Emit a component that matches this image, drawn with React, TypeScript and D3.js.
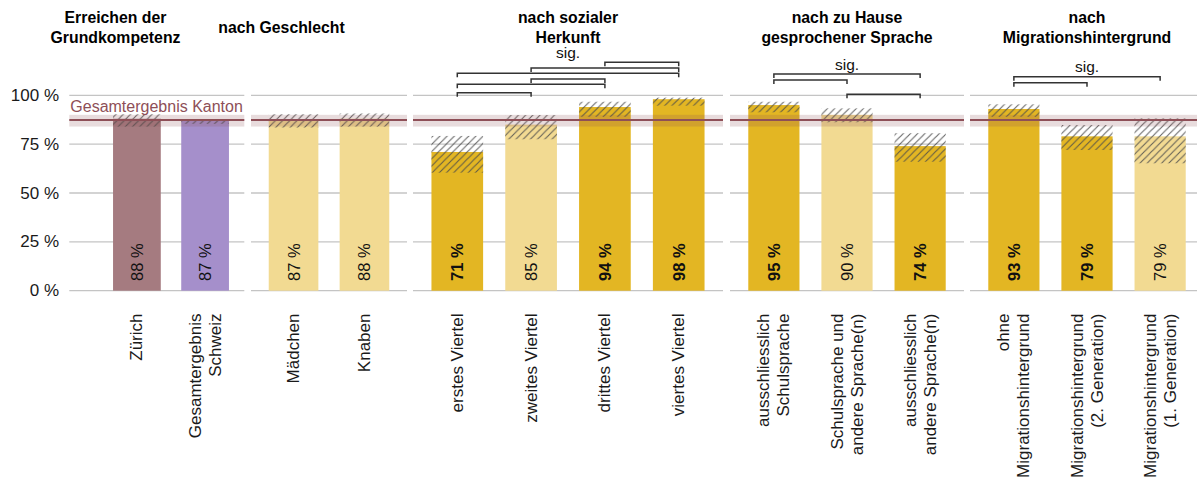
import React from "react";
import * as d3 from "d3";

const W = 1197;
const H = 489;

// ---------- data ----------
const panelTitles: string[][] = [
  ["Erreichen der", "Grundkompetenz"],
  ["nach Geschlecht"],
  ["nach sozialer", "Herkunft"],
  ["nach zu Hause", "gesprochener Sprache"],
  ["nach", "Migrationshintergrund"],
];

const panelCategories: string[][] = [
  ["Zürich", "Gesamtergebnis\nSchweiz"],
  ["Mädchen", "Knaben"],
  ["erstes Viertel", "zweites Viertel", "drittes Viertel", "viertes Viertel"],
  ["ausschliesslich\nSchulsprache", "Schulsprache und\nandere Sprache(n)", "ausschliesslich\nandere Sprache(n)"],
  ["ohne\nMigrationshintergrund", "Migrationshintergrund\n(2. Generation)", "Migrationshintergrund\n(1. Generation)"],
];

const panelValues: number[][] = [
  [88, 87],
  [87, 88],
  [71, 85, 94, 98],
  [95, 90, 74],
  [93, 79, 79],
];

const panelCiLow: number[][] = [
  [84.0, 85.4],
  [83.5, 84.0],
  [60.4, 77.5, 89.0, 94.7],
  [91.3, 86.2, 66.0],
  [89.0, 72.0, 65.2],
];

const panelCiHigh: number[][] = [
  [90.3, 87.6],
  [90.3, 90.7],
  [79.2, 89.9, 96.7, 98.8],
  [96.7, 93.3, 80.6],
  [95.4, 84.8, 88.2],
];

// fill group of each bar: "zh" canton, "ch" Switzerland, "strong" significant, "light" not significant
const panelGroups: string[][] = [
  ["zh", "ch"],
  ["light", "light"],
  ["strong", "light", "strong", "strong"],
  ["strong", "light", "strong"],
  ["strong", "strong", "light"],
];

// significance brackets: [from index, to index, level in % units]
const panelBrackets: [number, number, number][][] = [
  [],
  [],
  [
    [0, 1, 101.3],
    [0, 2, 105.6],
    [1, 2, 108.3],
    [0, 3, 111.3],
    [1, 3, 114.0],
    [2, 3, 116.9],
  ],
  [
    [1, 2, 100.5],
    [0, 1, 107.8],
    [0, 2, 110.9],
  ],
  [
    [0, 1, 106.4],
    [0, 2, 109.5],
  ],
];

const kantonValue = 87.4;
const kantonLow = 84.0;
const kantonHigh = 90.0;
const kantonLabel = "Gesamtergebnis Kanton";
const sigLabel = "sig.";

const yTicks = [0, 25, 50, 75, 100];

// ---------- layout ----------
const panelRanges: [number, number][] = [
  [69.3, 244.3],
  [251, 407],
  [413, 723],
  [730, 964],
  [970, 1204],
];
const barRanges: [number, number][] = [
  [96, 246],
  [251, 407],
  [413, 723],
  [730, 964],
  [970, 1204],
];
const titleCenters = [115.5, 281.5, 568, 847, 1087];

const colors: Record<string, string> = {
  zh: "#A57B80",
  ch: "#A58FCB",
  strong: "#E3B623",
  light: "#F2DA92",
};
const kantonColor = "#8E4F57";
const FONT = "'Liberation Sans', Arial, Helvetica, sans-serif";

const y = d3.scaleLinear().domain([0, 100]).range([290.7, 95.3]);

export default function App() {
  return (
    <svg
      width={W}
      height={H}
      style={{ position: "absolute", left: 0, top: 0, background: "#fff" }}
      fontFamily={FONT}
    >
      <defs>
        <pattern id="hatch" patternUnits="userSpaceOnUse" width={7.2} height={7.2}>
          <path
            d="M-1,1 L1,-1 M0,7.2 L7.2,0 M6.2,8.2 L8.2,6.2"
            stroke="#4a4a4a"
            strokeWidth={1.1}
            strokeOpacity={0.85}
          />
        </pattern>
      </defs>

      {/* y axis labels */}
      {yTicks.map((t) => (
        <text
          key={"yt" + t}
          x={59}
          y={y(t)}
          textAnchor="end"
          dominantBaseline="central"
          fontSize={17}
          fill="#1a1a1a"
        >
          {t + " %"}
        </text>
      ))}

      {panelCategories.map((cats, p) => {
        const [px0, px1] = panelRanges[p];
        const x = d3
          .scaleBand<string>()
          .domain(cats)
          .range(barRanges[p])
          .paddingInner(0.3)
          .paddingOuter(0.25);
        const bw = x.bandwidth();
        const cx = (c: string) => (x(c) as number) + bw / 2;
        const brackets = panelBrackets[p];
        const topBracket = brackets.length ? (d3.max(brackets, (b) => b[2]) as number) : 0;
        const title = panelTitles[p];
        const lh = 19.5;
        const titleBase = title.length === 1 ? 32.5 : 23;
        return (
          <g key={"p" + p}>
            {/* title */}
            <text
              x={titleCenters[p]}
              y={titleBase}
              textAnchor="middle"
              fontWeight="bold"
              fontSize={15.8}
              fill="#000"
            >
              {title.map((l, i) => (
                <tspan key={i} x={titleCenters[p]} dy={i === 0 ? 0 : lh}>
                  {l}
                </tspan>
              ))}
            </text>

            {/* grid */}
            {yTicks.map((t) => (
              <line
                key={"g" + t}
                x1={px0}
                x2={px1}
                y1={y(t)}
                y2={y(t)}
                stroke="#c4c4c4"
                strokeWidth={1.3}
              />
            ))}

            {/* bars */}
            {cats.map((c, i) => (
              <rect
                key={"b" + i}
                x={x(c)}
                width={bw}
                y={y(panelValues[p][i])}
                height={y(0) - y(panelValues[p][i])}
                fill={colors[panelGroups[p][i]]}
              />
            ))}

            {/* confidence hatch */}
            {cats.map((c, i) => (
              <rect
                key={"h" + i}
                x={x(c)}
                width={bw}
                y={y(panelCiHigh[p][i])}
                height={y(panelCiLow[p][i]) - y(panelCiHigh[p][i])}
                fill="url(#hatch)"
              />
            ))}

            {/* canton band and line */}
            <rect
              x={px0}
              width={px1 - px0}
              y={y(kantonHigh)}
              height={y(kantonLow) - y(kantonHigh)}
              fill={kantonColor}
              fillOpacity={0.2}
            />
            <line
              x1={px0}
              x2={px1}
              y1={y(kantonValue)}
              y2={y(kantonValue)}
              stroke={kantonColor}
              strokeWidth={2}
            />
            {p === 0 && (
              <text x={px0 + 1} y={111.5} fontSize={16} fill={kantonColor}>
                {kantonLabel}
              </text>
            )}

            {/* value labels */}
            {cats.map((c, i) => (
              <text
                key={"v" + i}
                transform={`translate(${cx(c)},281) rotate(-90)`}
                dominantBaseline="central"
                textAnchor="start"
                fontSize={16.5}
                fontWeight={panelGroups[p][i] === "strong" ? "bold" : "normal"}
                fill="#111"
              >
                {panelValues[p][i] + " %"}
              </text>
            ))}

            {/* x labels */}
            {cats.map((c, i) => {
              const lines = c.split("\n");
              const xlh = 20;
              return (
                <text
                  key={"x" + i}
                  transform={`translate(${cx(c)},313.5) rotate(-90)`}
                  textAnchor="end"
                  fontSize={17}
                  fill="#1a1a1a"
                >
                  {lines.map((l, k) => (
                    <tspan
                      key={k}
                      x={0}
                      y={(k - (lines.length - 1) / 2) * xlh}
                      dominantBaseline="central"
                    >
                      {l}
                    </tspan>
                  ))}
                </text>
              );
            })}

            {/* brackets */}
            {brackets.map(([a, b, lv], k) => {
              const xa = cx(cats[a]);
              const xb = cx(cats[b]);
              const yy = y(lv);
              return (
                <path
                  key={"br" + k}
                  d={`M${xa},${yy + 4}V${yy}H${xb}V${yy + 4}`}
                  fill="none"
                  stroke="#333"
                  strokeWidth={1.5}
                />
              );
            })}
            {brackets.length > 0 && (
              <text
                x={(px0 + px1) / 2}
                y={y(topBracket) - 10}
                textAnchor="middle"
                dominantBaseline="central"
                fontSize={15.5}
                fill="#111"
              >
                {sigLabel}
              </text>
            )}
          </g>
        );
      })}
    </svg>
  );
}
